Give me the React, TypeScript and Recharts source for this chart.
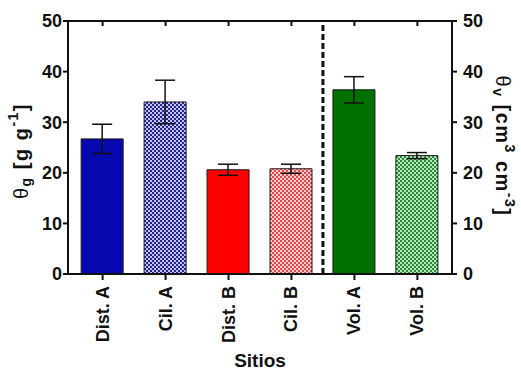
import React from "react";
import {
  Bar,
  Cell,
  ComposedChart,
  ErrorBar,
  Line,
  ReferenceLine,
  XAxis,
  YAxis,
} from "recharts";

const categories = ["Dist. A", "Cil. A", "Dist. B", "Cil. B", "Vol. A", "Vol. B"];
const means = [26.7, 34.0, 20.6, 20.8, 36.4, 23.4];
const errors = [2.9, 4.3, 1.1, 0.9, 2.6, 0.6];
const fills = [
  "#0808b0",
  "url(#chkBlue)",
  "#ff0000",
  "url(#chkRed)",
  "#007000",
  "url(#chkGreen)",
];
const yTicks = [0, 10, 20, 30, 40, 50];
const xTicks = [0, 1, 2, 3, 4, 5];
const xDomain: [number, number] = [-0.55, 5.55];

const FONT = "'Liberation Sans', Arial, sans-serif";

// plot box geometry (chart margins + axis sizes)
const PLOT_LEFT = 68;
const PLOT_RIGHT = 452;
const PLOT_TOP = 21;

const data = categories.map((name, i) => ({
  idx: i,
  name,
  value: means[i],
  err: errors[i],
}));

function CategoryTick(props: any) {
  const { x, y, payload } = props;
  return (
    <text
      transform={`translate(${x},${y + 4}) rotate(-90)`}
      textAnchor="end"
      dominantBaseline="central"
      fontFamily={FONT}
      fontWeight="bold"
      fontSize={18}
      fill="#111"
    >
      {categories[payload.value]}
    </text>
  );
}

function LeftLabel() {
  return (
    <text
      transform="translate(21,151) rotate(-90)"
      textAnchor="middle"
      dominantBaseline="central"
      fontFamily={FONT}
      fontSize={20}
      letterSpacing={1.5}
      fill="#111"
    >
      <tspan>θ</tspan>
      <tspan fontSize={14} fontWeight="bold" dy={5}>g</tspan>
      <tspan fontWeight="bold" dy={-5}> [g g</tspan>
      <tspan fontSize={14} fontWeight="bold" dy={-8}>-1</tspan>
      <tspan fontWeight="bold" dy={8}>]</tspan>
    </text>
  );
}

function RightLabel() {
  return (
    <text
      transform="translate(503,146) rotate(90)"
      textAnchor="middle"
      dominantBaseline="central"
      fontFamily={FONT}
      fontSize={20}
      letterSpacing={1.5}
      fill="#111"
    >
      <tspan>θ</tspan>
      <tspan fontSize={14} fontWeight="bold" dy={5}>v</tspan>
      <tspan fontWeight="bold" dy={-5}> [cm</tspan>
      <tspan fontSize={14} fontWeight="bold" dy={-7}>3</tspan>
      <tspan fontWeight="bold" dy={7}> cm</tspan>
      <tspan fontSize={14} fontWeight="bold" dy={-7}>-3</tspan>
      <tspan fontWeight="bold" dy={7}>]</tspan>
    </text>
  );
}

// top frame of the plot box with inward ticks at the category positions
function TopFrame() {
  const span = PLOT_RIGHT - PLOT_LEFT;
  const toX = (t: number) => PLOT_LEFT + ((t - xDomain[0]) / (xDomain[1] - xDomain[0])) * span;
  return (
    <svg
      width={521}
      height={40}
      style={{ position: "absolute", left: 0, top: 0, pointerEvents: "none" }}
    >
      <line x1={PLOT_LEFT - 1} x2={PLOT_RIGHT + 1} y1={PLOT_TOP} y2={PLOT_TOP} stroke="#111" strokeWidth={2} />
      {xTicks.map((t) => (
        <line key={t} x1={toX(t)} x2={toX(t)} y1={PLOT_TOP} y2={PLOT_TOP + 5} stroke="#111" strokeWidth={2} />
      ))}
    </svg>
  );
}

function Checker({ id, dark, light }: { id: string; dark: string; light: string }) {
  return (
    <pattern id={id} width={4} height={4} patternUnits="userSpaceOnUse">
      <rect x={0} y={0} width={4} height={4} fill={light} />
      <rect x={0} y={0} width={2} height={2} fill={dark} />
      <rect x={2} y={2} width={2} height={2} fill={dark} />
    </pattern>
  );
}

const yTickStyle = { fill: "#111", fontSize: 18, fontWeight: "bold", fontFamily: FONT };

export default function App() {
  return (
    <div style={{ position: "absolute", left: 0, top: 0, width: 521, height: 372, background: "#fff" }}>
      <ComposedChart
        width={521}
        height={372}
        data={data}
        margin={{ top: PLOT_TOP, right: 0, bottom: 0, left: 0 }}
      >
        <defs>
          <Checker id="chkBlue" dark="#24248c" light="#c4c4f2" />
          <Checker id="chkRed" dark="#e04848" light="#ffd0d0" />
          <Checker id="chkGreen" dark="#2a8a3a" light="#b8e6b8" />
        </defs>
        <XAxis
          dataKey="idx"
          type="number"
          domain={xDomain}
          ticks={xTicks}
          allowDataOverflow
          height={98}
          stroke="#111"
          strokeWidth={2}
          tickSize={6}
          tick={<CategoryTick />}
          label={{
            value: "Sitios",
            position: "insideBottom",
            offset: 5,
            fontFamily: FONT,
            fontWeight: "bold",
            fontSize: 19,
            fill: "#111",
          }}
        />
        <YAxis
          domain={[0, 50]}
          ticks={yTicks}
          width={PLOT_LEFT}
          stroke="#111"
          strokeWidth={2}
          tickSize={5}
          tickMargin={1}
          tick={yTickStyle}
          label={<LeftLabel />}
        />
        <YAxis
          yAxisId="right"
          orientation="right"
          domain={[0, 50]}
          ticks={yTicks}
          width={521 - PLOT_RIGHT}
          stroke="#111"
          strokeWidth={2}
          tickSize={5}
          tickMargin={6}
          tick={yTickStyle}
          label={<RightLabel />}
        />
        <ReferenceLine
          x={3.5}
          stroke="#111"
          strokeWidth={3}
          strokeDasharray="6 3"
        />
        <Bar dataKey="value" barSize={42} stroke="#1a1a1a" strokeWidth={1} isAnimationActive={false}>
          {data.map((d, i) => (
            <Cell key={d.name} fill={fills[i]} />
          ))}
          <ErrorBar dataKey="err" width={10} stroke="#111" strokeWidth={1.5} direction="y" />
        </Bar>
        <Line
          yAxisId="right"
          dataKey="value"
          stroke="none"
          dot={false}
          activeDot={false}
          legendType="none"
          isAnimationActive={false}
        />
      </ComposedChart>
      <TopFrame />
    </div>
  );
}
